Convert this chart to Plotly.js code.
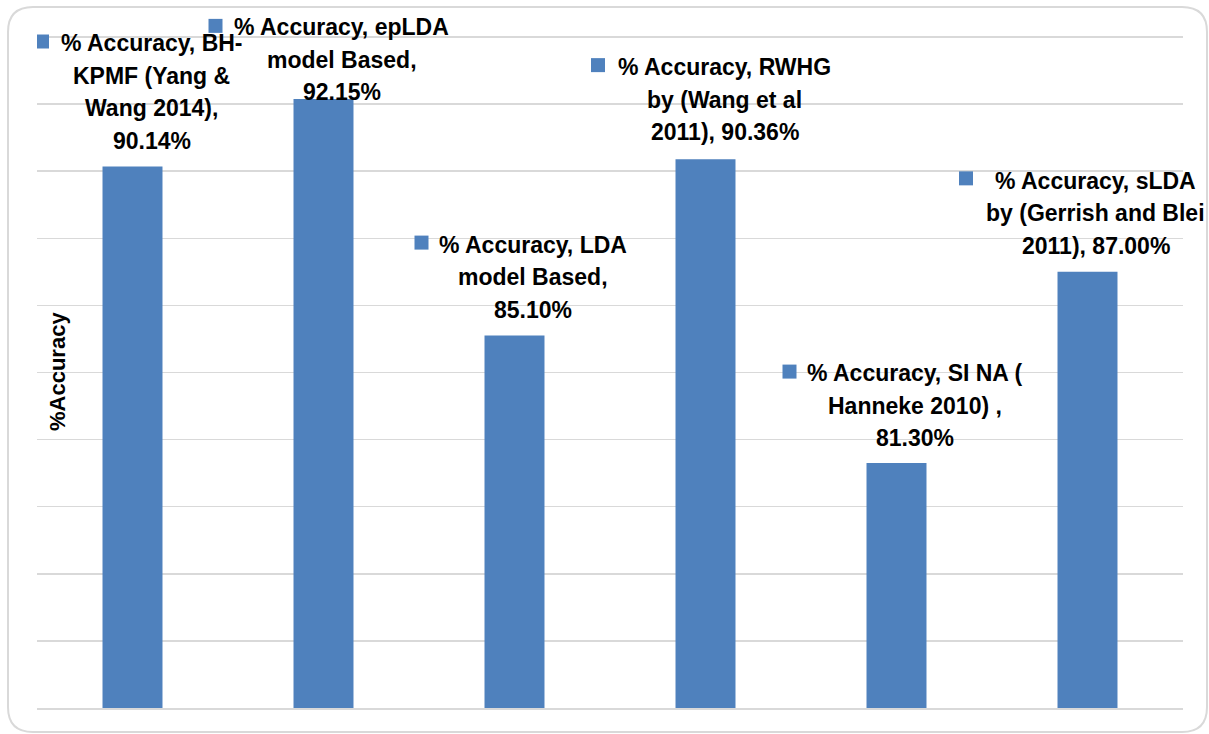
<!DOCTYPE html>
<html>
<head>
<meta charset="utf-8">
<script src="https://cdn.plot.ly/plotly-3.0.1.min.js"></script>
<style>
html,body{margin:0;padding:0;background:#fff;}
#chart{width:1209px;height:734px;}
</style>
</head>
<body>
<div id="chart"></div>
<script>
// ---- data ----
const seriesName = '% Accuracy';
const categories = [
  'BH-KPMF (Yang & Wang 2014)',
  'epLDA model Based',
  'LDA model Based',
  'RWHG by (Wang et al 2011)',
  'SI NA ( Hanneke 2010) ',
  'sLDA by (Gerrish and Blei 2011)'
];
const accuracy = [90.14, 92.15, 85.10, 90.36, 81.30, 87.00];
// wrapped label lines as in the picture; {v} = formatted value
const labelLines = [
  ['% Accuracy, BH-', 'KPMF (Yang &', 'Wang 2014),', '{v}'],
  ['% Accuracy, epLDA', 'model Based,', '{v}'],
  ['% Accuracy, LDA', 'model Based,', '{v}'],
  ['% Accuracy, RWHG', 'by (Wang et al', '2011), {v}'],
  ['% Accuracy, SI NA (', 'Hanneke 2010) ,', '{v}'],
  ['% Accuracy, sLDA', 'by (Gerrish and Blei', '2011), {v}']
];
const yAxisTitle = '%Accuracy';
const yRange = [74, 94.03];

// ---- label placement (pixels relative to bar top centre) ----
const labelPos = [
  {dx: 19,   dy: 26,  sx: -90.5,  sy: 1.5},
  {dx: 18,   dy: 6.7, sx: -108,   sy: 1.5},
  {dx: 18.5, dy: 26,  sx: -93,    sy: 2},
  {dx: 19,   dy: 27,  sx: -107.5, sy: 2},
  {dx: 18,   dy: 25,  sx: -107,   sy: 1.5},
  {dx: 8,    dy: 26,  sx: -121.5, sy: 2.5}
];
const lineGap = 32.5;
const barColor = '#4F81BD';
const gridColor = '#D9D9D9';
const labelFont = {family: 'Liberation Sans, Arial, sans-serif', size: 23, color: '#000000', weight: 'bold'};

// plot area in pixels
const W = 1209, H = 734;
const mL = 37, mR = W - 1183, mT = 36, mB = H - 708;
const pw = W - mL - mR, ph = H - mT - mB;
const fx = px => (px - mL) / pw;
const fy = py => (H - mB - py) / ph;
const yFrac = v => (v - yRange[0]) / (yRange[1] - yRange[0]);

const annotations = [];
const shapes = [];

categories.forEach((c, i) => {
  const lines = labelLines[i];
  const n = lines.length;
  const p = labelPos[i];
  const vtxt = accuracy[i].toFixed(2) + '%';
  lines.forEach((ln, j) => {
    annotations.push({
      xref: 'x', yref: 'y', x: i, y: accuracy[i],
      xshift: p.dx, yshift: p.dy + (n - 1 - j) * lineGap,
      text: '<b>' + ln.replace('{v}', vtxt).replace(/&/g, '&amp;') + '</b>',
      showarrow: false, xanchor: 'center', yanchor: 'middle',
      font: labelFont
    });
  });
  const sc = p.dy + (n - 1) * lineGap + p.sy;
  shapes.push({
    type: 'rect', xref: 'x', yref: 'paper',
    xsizemode: 'pixel', ysizemode: 'pixel',
    xanchor: i, yanchor: yFrac(accuracy[i]),
    x0: p.sx - 7, x1: p.sx + 7, y0: sc - 7, y1: sc + 7,
    fillcolor: barColor, line: {width: 0}
  });
});

// y axis title inside the plot
annotations.push({
  xref: 'paper', yref: 'paper', x: fx(57), y: fy(372),
  text: '<b>' + yAxisTitle + '</b>', textangle: -90, showarrow: false,
  xanchor: 'center', yanchor: 'middle',
  font: {family: 'Liberation Sans, Arial, sans-serif', size: 22, color: '#000000', weight: 'bold'}
});

// rounded outer border
const L = 8, R = 1207, T = 7, B = 732, rad = 25;
const P = (x, y) => fx(x) + ',' + fy(y);
const borderPath = 'M' + P(L + rad, T) + ' L' + P(R - rad, T) +
  ' Q' + P(R, T) + ' ' + P(R, T + rad) + ' L' + P(R, B - rad) +
  ' Q' + P(R, B) + ' ' + P(R - rad, B) + ' L' + P(L + rad, B) +
  ' Q' + P(L, B) + ' ' + P(L, B - rad) + ' L' + P(L, T + rad) +
  ' Q' + P(L, T) + ' ' + P(L + rad, T) + ' Z';
shapes.push({type: 'path', xref: 'paper', yref: 'paper', path: borderPath,
  line: {color: gridColor, width: 2}, layer: 'below'});

const trace = {
  type: 'bar', x: categories.map((c, i) => i), y: accuracy, name: seriesName,
  marker: {color: barColor, line: {width: 0}},
  hoverinfo: 'y', cliponaxis: false
};

const layout = {
  width: W, height: H,
  margin: {l: mL, r: mR, t: mT, b: mB, pad: 0},
  paper_bgcolor: '#FFFFFF', plot_bgcolor: '#FFFFFF',
  showlegend: false,
  bargap: 0.686,
  xaxis: {
    type: 'linear', range: [-0.5, categories.length - 0.5],
    showticklabels: false, showgrid: false, zeroline: false, ticks: '',
    showline: true, linecolor: gridColor, linewidth: 2
  },
  yaxis: {
    range: yRange, dtick: 2, tick0: 74,
    showticklabels: false, ticks: '', zeroline: false,
    showgrid: true, gridcolor: gridColor, gridwidth: 1.5, showline: false
  },
  annotations: annotations,
  shapes: shapes,
  font: {family: 'Liberation Sans, Arial, sans-serif'}
};

Plotly.newPlot('chart', [trace], layout, {displayModeBar: false, staticPlot: true});
</script>
</body>
</html>
